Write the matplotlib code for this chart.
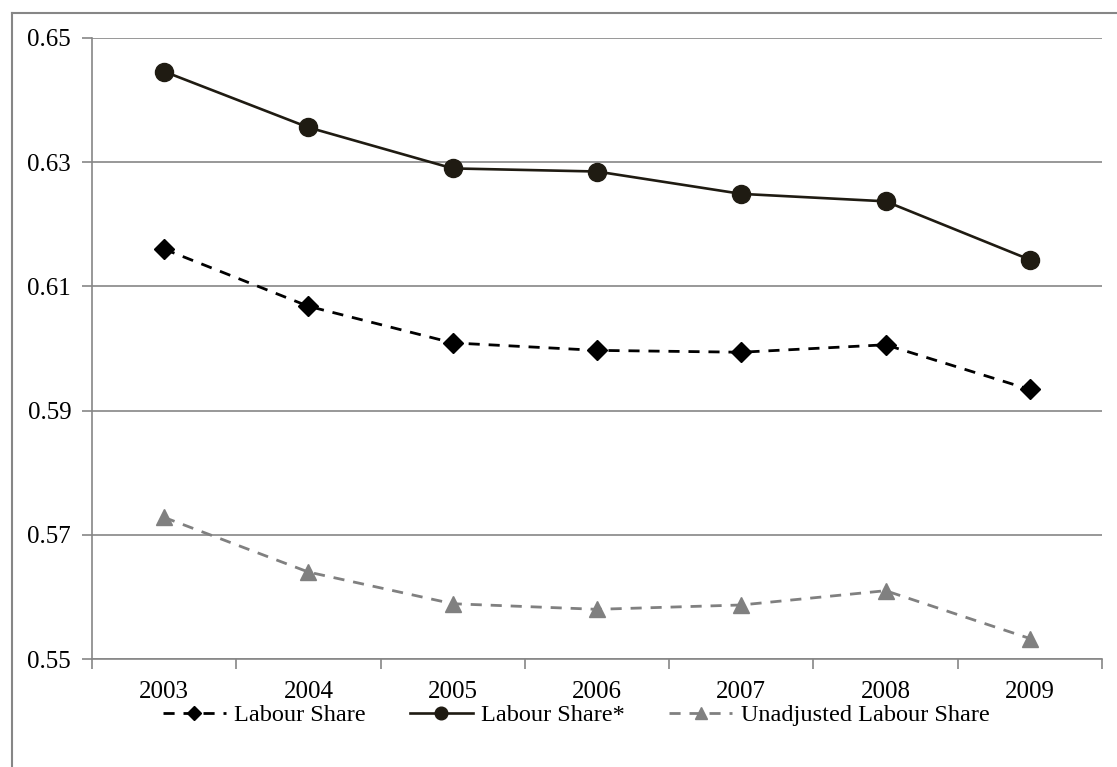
import matplotlib
matplotlib.use('Agg')
import matplotlib.pyplot as plt
from matplotlib.lines import Line2D

years = ['2003', '2004', '2005', '2006', '2007', '2008', '2009']
labour_share = [0.6160, 0.6068, 0.6009, 0.5997, 0.5994, 0.6006, 0.5934]
labour_share_star = [0.6446, 0.6356, 0.6290, 0.6285, 0.6249, 0.6237, 0.6143]
unadjusted_share = [0.5728, 0.5640, 0.5589, 0.5580, 0.5587, 0.5610, 0.5533]
y_ticks = [0.55, 0.57, 0.59, 0.61, 0.63, 0.65]

plt.rcParams['font.family'] = ['Liberation Serif', 'DejaVu Serif']

W, H = 1117, 767
fig = plt.figure(figsize=(W / 100, H / 100), dpi=100)
ax = fig.add_axes([92 / W, 1 - 659 / H, (1102 - 92) / W, (659 - 38) / H])

grid_grey = '#868686'
x = range(len(years))

ax.plot(x, labour_share, color='black', lw=2.0, dashes=(4, 3.2),
        marker='D', markersize=10.5, label='Labour Share', zorder=3)
ax.plot(x, labour_share_star, color='#1f1b12', lw=1.9,
        marker='o', markersize=13, label='Labour Share*', zorder=3)
ax.plot(x, unadjusted_share, color='#808080', lw=2.0, dashes=(4, 3.2),
        marker='^', markersize=12, label='Unadjusted Labour Share', zorder=3)

ax.set_ylim(0.55, 0.65)
ax.set_yticks(y_ticks)
ax.set_yticklabels([f'{v:.2f}' for v in y_ticks])
ax.yaxis.grid(True, color=grid_grey, lw=1.2)
ax.set_axisbelow(True)

# category boundaries carry the tick marks, labels sit at the centres
ax.set_xlim(-0.5, len(years) - 0.5)
ax.set_xticks([i - 0.5 for i in range(len(years) + 1)])
ax.set_xticklabels([])
ax.set_xticks(list(x), minor=True)
ax.set_xticklabels(years, minor=True)
ax.tick_params(axis='x', which='major', length=7, width=1.2, color=grid_grey)
ax.tick_params(axis='x', which='minor', length=0, pad=16, labelsize=18)
ax.tick_params(axis='y', length=7, width=1.2, color=grid_grey, pad=8, labelsize=18)

for side in ('top', 'right'):
    ax.spines[side].set_visible(False)
for side in ('left', 'bottom'):
    ax.spines[side].set_color(grid_grey)
    ax.spines[side].set_linewidth(1.2)

fig.legend(loc='center', bbox_to_anchor=(576 / W, 1 - 715 / H), ncol=3,
           frameon=False, fontsize=17.5, handlelength=2.6, columnspacing=1.8,
           handletextpad=0.35, markerscale=0.7)

# frame edges at the top and left of the chart
top = 1 - 13 / H
left = 12 / W
fig.lines.append(Line2D([left, 1], [top, top], transform=fig.transFigure,
                        color=grid_grey, lw=1.5))
fig.lines.append(Line2D([left, left], [0, top], transform=fig.transFigure,
                        color=grid_grey, lw=1.5))

fig.savefig('out.png', dpi=100)
